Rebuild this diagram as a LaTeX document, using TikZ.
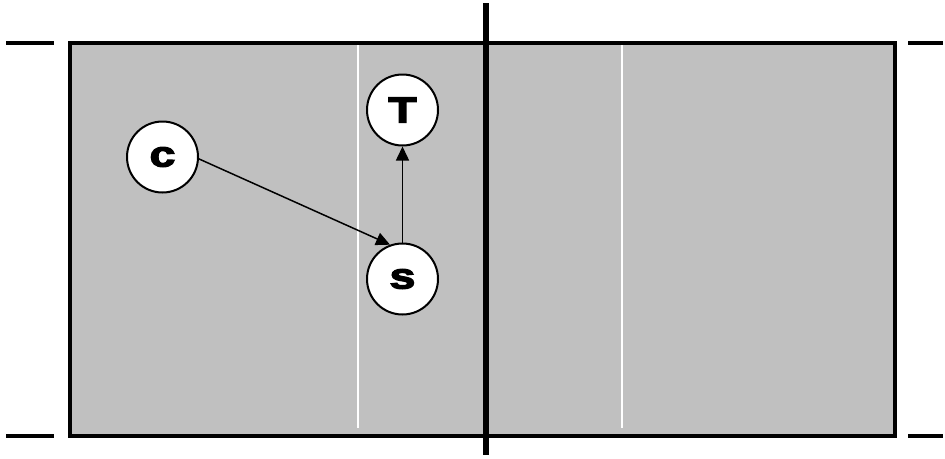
\documentclass[tikz,border=0pt]{standalone}
\usepackage{fontspec}
\newfontfamily\lbl{Liberation Sans}[FakeStretch=1.3,BoldFeatures={FakeBold=3.5}]
\usetikzlibrary{arrows.meta}
\definecolor{court}{HTML}{C0C0C0}
\tikzset{
  player/.style={circle,draw=black,fill=white,line width=2pt,minimum size=71pt,inner sep=0pt,
    font=\lbl\bfseries\fontsize{36}{36}\selectfont},
  move/.style={line width=1.5pt,-{Triangle[length=14pt,width=13pt]}},
  tick/.style={line width=4pt},
  chalk/.style={white,line width=2pt}
}
\begin{document}
\begin{tikzpicture}[x=1pt,y=-1pt]
\useasboundingbox (0,0) rectangle (945,458);
\fill[court] (70,43) rectangle (895,436);
\draw[chalk] (358,45) -- (358,428);
\draw[chalk] (622,45) -- (622,428);
\draw[line width=4pt] (70,43) rectangle (895,436);
\draw[line width=5.5pt] (486,3) -- (486,455);
\draw[tick] (6,43) -- (54,43);
\draw[tick] (6,436) -- (54,436);
\draw[tick] (908,43) -- (943,43);
\draw[tick] (908,436) -- (943,436);
\node[player] (C) at (162.5,157) {c};
\node[player] (T) at (402.5,110) {T};
\node[player] (S) at (402.5,279) {s};
\draw[move] (C.-3) -- (S.110);
\draw[move] (S.north) -- (T.south);
\end{tikzpicture}
\end{document}
